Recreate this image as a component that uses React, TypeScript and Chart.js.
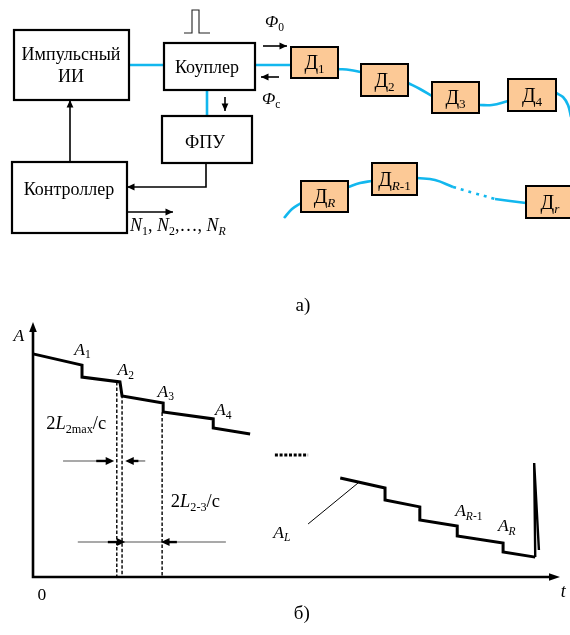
import React, { useEffect, useRef } from 'react';
import { Chart, registerables } from 'chart.js';
Chart.register(...registerables);

const FONT = '"Liberation Serif", "Times New Roman", serif';
const CYAN = '#12B7EE';
const PEACH = '#FCC996';
const GRAY = '#555555';

type Run = { t: string; i?: boolean; s?: boolean };
type Pt = [number, number];

// ================= а) block diagram (diagram units: x → right, y → down) =================
const blockLines: string[][] = [['Импульсный', 'ИИ'], ['Коуплер'], ['ФПУ'], ['Контроллер']];
const blockX0 = [14, 164, 162, 12];
const blockX1 = [129, 255, 252, 127];
const blockY0 = [30, 43, 116, 162];
const blockY1 = [100, 90, 163, 233];
const blockTextX = [71, 207, 205, 69];
const blockTextY: number[][] = [[60, 82], [73], [148], [195]];

const sensorSubs: Run[][] = [
  [{ t: '1', s: true }],
  [{ t: '2', s: true }],
  [{ t: '3', s: true }],
  [{ t: '4', s: true }],
  [{ t: 'R', i: true, s: true }],
  [{ t: 'R', i: true, s: true }, { t: '-1', s: true }],
  [{ t: 'r', i: true, s: true }],
];
const sensorX0 = [291, 361, 432, 508, 301, 372, 526];
const sensorX1 = [338, 408, 479, 556, 348, 417, 574];
const sensorY0 = [47, 64, 82, 79, 181, 163, 186];
const sensorY1 = [78, 96, 113, 111, 212, 195, 218];

const fiberSolid: Pt[][] = [
  [[129, 65], [164, 65]],
  [[255, 65], [291, 65]],
  [[207, 90], [207, 116]],
  [[338, 69], [350, 70], [361, 72]],
  [[408, 83], [420, 89], [432, 96]],
  [[479, 105], [492, 105], [508, 101]],
  [[556, 93], [563, 97], [568, 105], [571, 117]],
  [[284, 218], [292, 209], [301, 203]],
  [[348, 187], [360, 183], [372, 181]],
  [[417, 178], [435, 180], [453, 187]],
  [[495, 199], [510, 201], [526, 203]],
];
const fiberDotted: Pt[][] = [[[453, 187], [474, 193], [495, 199]]];

const diagramArrows: Pt[][] = [
  [[263, 46], [287, 46]],
  [[279, 77], [261, 77]],
  [[225, 97], [225, 111]],
  [[70, 162], [70, 100]],
  [[206, 163], [206, 187], [127, 187]],
  [[127, 212], [173, 212]],
];
const pulse: Pt[] = [[184, 33], [192, 33], [192, 10], [199, 10], [199, 33], [210, 33]];

const diagramLabelRuns: Run[][] = [
  [{ t: 'Φ', i: true }, { t: '0', s: true }],
  [{ t: 'Φ', i: true }, { t: 'с', s: true }],
  [
    { t: 'N', i: true }, { t: '1', s: true }, { t: ', ' },
    { t: 'N', i: true }, { t: '2', s: true }, { t: ',…, ' },
    { t: 'N', i: true }, { t: 'R', i: true, s: true },
  ],
  [{ t: 'а)' }],
];
const diagramLabelX = [265, 262, 130, 303];
const diagramLabelY = [27, 104, 231, 311];
const diagramLabelAlign = ['left', 'left', 'left', 'center'];
const diagramLabelSize = [17.5, 17.5, 18, 19];

// ================= б) reflectogram (t, A) =================
const signal1T = [0, 9.3, 9.3, 16.5, 16.9, 24.7, 24.7, 34.2, 34.2, 41.2];
const signal1A = [87.5, 83.1, 78.4, 76.5, 71.0, 68.2, 64.7, 62.0, 58.4, 56.1];
const signal2T = [58.3, 66.8, 66.8, 73.4, 73.4, 80.5, 80.5, 89.2, 89.2, 95.3];
const signal2A = [38.8, 34.9, 30.2, 27.5, 22.4, 20.0, 16.1, 13.3, 9.8, 7.8];
const spikeT = [95.3, 95.1, 96.0];
const spikeA = [7.8, 44.7, 10.6];

const dashT = [15.9, 16.9, 24.5];
const dashTop = [76.5, 71.5, 64.5];

const grayLines: Pt[][] = [
  [[5.7, 45.5], [12.3, 45.5]],
  [[19.7, 45.5], [21.3, 45.5]],
  [[8.5, 13.7], [36.6, 13.7]],
];
const dimArrows: Pt[][] = [
  [[12.0, 45.5], [15.4, 45.5]],
  [[20.0, 45.5], [17.5, 45.5]],
  [[14.2, 13.7], [17.5, 13.7]],
  [[27.3, 13.7], [24.3, 13.7]],
];
const pointerLine: Pt[] = [[52.2, 20.8], [61.7, 36.9]];
const ellipsis: Pt[] = [[45.9, 47.8], [52.2, 47.8]];

const plotLabelRuns: Run[][] = [
  [{ t: 'A', i: true }],
  [{ t: '0' }],
  [{ t: 't', i: true }],
  [{ t: 'б)' }],
  [{ t: 'A', i: true }, { t: '1', s: true }],
  [{ t: 'A', i: true }, { t: '2', s: true }],
  [{ t: 'A', i: true }, { t: '3', s: true }],
  [{ t: 'A', i: true }, { t: '4', s: true }],
  [{ t: '2' }, { t: 'L', i: true }, { t: '2max', s: true }, { t: '/c' }],
  [{ t: '2' }, { t: 'L', i: true }, { t: '2-3', s: true }, { t: '/c' }],
  [{ t: 'A', i: true }, { t: 'L', i: true, s: true }],
  [{ t: 'A', i: true }, { t: 'R', i: true, s: true }, { t: '-1', s: true }],
  [{ t: 'A', i: true }, { t: 'R', i: true, s: true }],
];
const plotLabelT = [-2.7, 1.7, 100.6, 51.0, 9.4, 17.6, 25.2, 36.1, 8.2, 30.8, 47.2, 82.7, 89.9];
const plotLabelA = [92.5, -9.0, -7.8, -16.5, 87.1, 79.2, 70.6, 63.5, 58.0, 27.5, 15.3, 23.9, 18.0];
const plotLabelSize = [17.5, 17.5, 18, 19, 17.5, 17.5, 17.5, 17.5, 18.5, 18.5, 17.5, 17.5, 17.5];

// ================= helpers =================
function drawRich(ctx: CanvasRenderingContext2D, runs: Run[], x: number, y: number, size: number, align: string) {
  const sub = size * 0.66;
  const font = (r: Run) => `${r.i ? 'italic ' : ''}${r.s ? sub : size}px ${FONT}`;
  let w = 0;
  for (const r of runs) {
    ctx.font = font(r);
    w += ctx.measureText(r.t).width;
  }
  let cx = align === 'center' ? x - w / 2 : align === 'right' ? x - w : x;
  ctx.textAlign = 'left';
  ctx.textBaseline = 'alphabetic';
  ctx.fillStyle = '#000';
  for (const r of runs) {
    ctx.font = font(r);
    ctx.fillText(r.t, cx, r.s ? y + size * 0.2 : y);
    cx += ctx.measureText(r.t).width;
  }
}

function arrowHead(ctx: CanvasRenderingContext2D, fx: number, fy: number, tx: number, ty: number, len: number, half: number) {
  const a = Math.atan2(ty - fy, tx - fx);
  ctx.beginPath();
  ctx.moveTo(tx, ty);
  ctx.lineTo(tx - len * Math.cos(a) + half * Math.sin(a), ty - len * Math.sin(a) - half * Math.cos(a));
  ctx.lineTo(tx - len * Math.cos(a) - half * Math.sin(a), ty - len * Math.sin(a) + half * Math.cos(a));
  ctx.closePath();
  ctx.fill();
}

const toXY = (pts: Pt[]) => pts.map(([x, y]) => ({ x, y }));
const zipXY = (xs: number[], ys: number[]) => xs.map((x, k) => ({ x, y: ys[k] }));

function lineDs(data: { x: number; y: number }[], color: string, width: number, extra: any = {}) {
  return {
    data,
    showLine: true,
    borderColor: color,
    backgroundColor: color,
    borderWidth: width,
    pointRadius: 0,
    fill: false,
    clip: false,
    borderJoinStyle: 'miter',
    ...extra,
  };
}

// ================= diagram plugin =================
const diagramPlugin = {
  id: 'diagram',
  afterDatasetsDraw(chart: any) {
    const ctx: CanvasRenderingContext2D = chart.ctx;
    const X = (v: number) => chart.scales.x.getPixelForValue(v);
    const Y = (v: number) => chart.scales.y.getPixelForValue(v);
    ctx.save();
    blockLines.forEach((lines, k) => {
      const x0 = X(blockX0[k]), y0 = Y(blockY0[k]);
      const w = X(blockX1[k]) - x0, h = Y(blockY1[k]) - y0;
      ctx.fillStyle = '#fff';
      ctx.fillRect(x0, y0, w, h);
      ctx.lineWidth = 2.2;
      ctx.strokeStyle = '#000';
      ctx.strokeRect(x0, y0, w, h);
      lines.forEach((ln, j) => drawRich(ctx, [{ t: ln }], X(blockTextX[k]), Y(blockTextY[k][j]), 18, 'center'));
    });
    sensorSubs.forEach((sub, k) => {
      const x0 = X(sensorX0[k]), y0 = Y(sensorY0[k]);
      const w = X(sensorX1[k]) - x0, h = Y(sensorY1[k]) - y0;
      ctx.fillStyle = PEACH;
      ctx.fillRect(x0, y0, w, h);
      ctx.lineWidth = 2;
      ctx.strokeStyle = '#000';
      ctx.strokeRect(x0, y0, w, h);
      drawRich(ctx, [{ t: 'Д' }, ...sub], x0 + w / 2, y0 + h / 2 + 6.5, 20, 'center');
    });
    ctx.strokeStyle = '#000';
    ctx.fillStyle = '#000';
    ctx.lineWidth = 1.6;
    diagramArrows.forEach((path) => {
      ctx.beginPath();
      path.forEach(([x, y], j) => (j ? ctx.lineTo(X(x), Y(y)) : ctx.moveTo(X(x), Y(y))));
      ctx.stroke();
      const [fx, fy] = path[path.length - 2];
      const [tx, ty] = path[path.length - 1];
      arrowHead(ctx, X(fx), Y(fy), X(tx), Y(ty), 7.5, 3.4);
    });
    ctx.lineWidth = 1.1;
    ctx.strokeStyle = '#222';
    ctx.beginPath();
    pulse.forEach(([x, y], j) => (j ? ctx.lineTo(X(x), Y(y)) : ctx.moveTo(X(x), Y(y))));
    ctx.stroke();
    diagramLabelRuns.forEach((runs, k) =>
      drawRich(ctx, runs, X(diagramLabelX[k]), Y(diagramLabelY[k]), diagramLabelSize[k], diagramLabelAlign[k])
    );
    ctx.restore();
  },
};

// ================= plot plugin =================
const plotPlugin = {
  id: 'plotDecor',
  afterDatasetsDraw(chart: any) {
    const ctx: CanvasRenderingContext2D = chart.ctx;
    const X = (v: number) => chart.scales.x.getPixelForValue(v);
    const Y = (v: number) => chart.scales.y.getPixelForValue(v);
    ctx.save();
    ctx.strokeStyle = '#000';
    ctx.fillStyle = '#000';
    ctx.lineWidth = 2.6;
    ctx.beginPath();
    ctx.moveTo(X(0), Y(100) + 6);
    ctx.lineTo(X(0), Y(0));
    ctx.lineTo(X(100) - 8, Y(0));
    ctx.stroke();
    arrowHead(ctx, X(0), Y(50), X(0), Y(100), 10, 3.8);
    arrowHead(ctx, X(50), Y(0), X(100), Y(0), 11, 3.8);
    ctx.lineWidth = 2.4;
    dimArrows.forEach(([[fx, fy], [tx, ty]]) => {
      const a = Math.sign(X(tx) - X(fx));
      ctx.beginPath();
      ctx.moveTo(X(fx), Y(fy));
      ctx.lineTo(X(tx) - a * 4, Y(ty));
      ctx.stroke();
      arrowHead(ctx, X(fx), Y(fy), X(tx), Y(ty), 8.5, 4);
    });
    plotLabelRuns.forEach((runs, k) =>
      drawRich(ctx, runs, X(plotLabelT[k]), Y(plotLabelA[k]), plotLabelSize[k], 'center')
    );
    ctx.restore();
  },
};

export default function App() {
  const topRef = useRef<HTMLCanvasElement>(null);
  const botRef = useRef<HTMLCanvasElement>(null);

  useEffect(() => {
    const fiberDatasets = [
      ...fiberSolid.map((p) => lineDs(toXY(p), CYAN, 2.6, { tension: 0.4, borderCapStyle: 'butt' })),
      ...fiberDotted.map((p) => lineDs(toXY(p), CYAN, 2.6, { tension: 0.4, borderDash: [3, 5] })),
    ];
    const top = new Chart(topRef.current as HTMLCanvasElement, {
      type: 'scatter',
      data: { datasets: fiberDatasets as any },
      options: {
        responsive: false,
        animation: false,
        events: [],
        layout: { padding: 0 },
        plugins: { legend: { display: false }, tooltip: { enabled: false } },
        scales: {
          x: { type: 'linear', min: 0, max: 570, display: false },
          y: { type: 'linear', min: 0, max: 320, reverse: true, display: false },
        },
      },
      plugins: [diagramPlugin],
    });

    const plotDatasets = [
      ...dashT.map((t, k) =>
        lineDs([{ x: t, y: dashTop[k] }, { x: t, y: 0 }], '#000', 1.4, { borderDash: [3.5, 2] })
      ),
      ...grayLines.map((p) => lineDs(toXY(p), GRAY, 1.1)),
      lineDs(toXY(pointerLine), '#000', 1),
      lineDs(toXY(ellipsis), '#000', 3, { borderDash: [3, 1.7] }),
      lineDs(zipXY(signal1T, signal1A), '#000', 3),
      lineDs(zipXY(signal2T, signal2A), '#000', 3),
      lineDs(zipXY(spikeT, spikeA), '#000', 2.4),
    ];
    const bot = new Chart(botRef.current as HTMLCanvasElement, {
      type: 'scatter',
      data: { datasets: plotDatasets as any },
      options: {
        responsive: false,
        animation: false,
        events: [],
        layout: { padding: { left: 33, right: 10, top: 2, bottom: 58 } },
        plugins: { legend: { display: false }, tooltip: { enabled: false } },
        scales: {
          x: { type: 'linear', min: 0, max: 100, display: false },
          y: { type: 'linear', min: 0, max: 100, display: false },
        },
      },
      plugins: [plotPlugin],
    });

    return () => {
      top.destroy();
      bot.destroy();
    };
  }, []);

  return (
    <div style={{ position: 'absolute', left: 0, top: 0, width: 570, height: 635, background: '#fff' }}>
      <canvas
        ref={topRef}
        width={570}
        height={320}
        style={{ position: 'absolute', left: 0, top: 0, width: 570, height: 320 }}
      />
      <canvas
        ref={botRef}
        width={570}
        height={315}
        style={{ position: 'absolute', left: 0, top: 320, width: 570, height: 315 }}
      />
    </div>
  );
}
